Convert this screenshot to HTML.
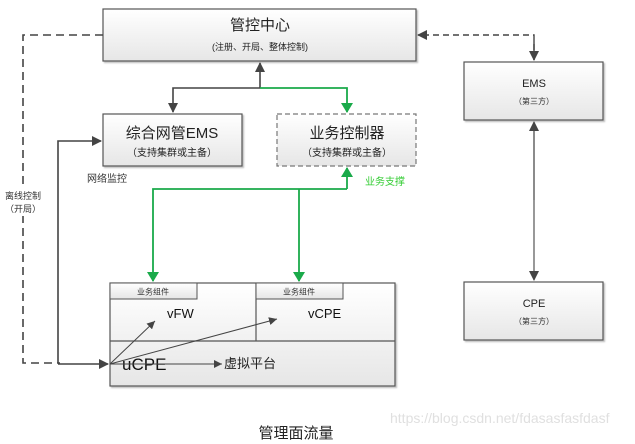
<!DOCTYPE html>
<html><head><meta charset="utf-8"><style>
html,body{margin:0;padding:0;background:#fff}
svg{display:block}
text{font-family:"Liberation Sans","Noto Sans CJK SC",sans-serif}
</style></head><body>
<svg width="635" height="444" viewBox="0 0 635 444" xmlns="http://www.w3.org/2000/svg">
<defs>
<linearGradient id="g" x1="0" y1="0" x2="0" y2="1"><stop offset="0" stop-color="#ffffff"/><stop offset="1" stop-color="#e6e6e6"/></linearGradient>
<filter id="sh" x="-5%" y="-5%" width="115%" height="120%"><feDropShadow dx="1.5" dy="1.5" stdDeviation="0.8" flood-color="#000" flood-opacity="0.25"/></filter>
<marker id="ad" markerWidth="10" markerHeight="10" refX="9" refY="5" orient="auto" markerUnits="userSpaceOnUse"><path d="M0,0 L10,5 L0,10 z" fill="#444"/></marker>
<marker id="ag" markerWidth="10" markerHeight="12" refX="9" refY="6" orient="auto" markerUnits="userSpaceOnUse"><path d="M0,0 L10,6 L0,12 z" fill="#1aaa4a"/></marker>
<marker id="as" markerWidth="8" markerHeight="8" refX="8" refY="4" orient="auto" markerUnits="userSpaceOnUse"><path d="M0,0 L8,4 L0,8 z" fill="#444"/></marker>
</defs>

<rect x="103" y="9" width="313" height="52" fill="url(#g)" stroke="#555" stroke-width="1.2" filter="url(#sh)"/>
<text x="260" y="30" font-size="15" text-anchor="middle" fill="#222">管控中心</text>
<text x="260" y="50" font-size="9" text-anchor="middle" fill="#222">(注册、开局、整体控制)</text>

<rect x="103" y="114" width="139" height="52" fill="url(#g)" stroke="#555" stroke-width="1.2" filter="url(#sh)"/>
<text x="172" y="138" font-size="15" text-anchor="middle" fill="#222">综合网管EMS</text>
<text x="172" y="156" font-size="10" text-anchor="middle" fill="#222">（支持集群或主备）</text>

<rect x="277" y="114" width="139" height="52" fill="url(#g)" stroke="#777" stroke-width="1.2" stroke-dasharray="5,3"/>
<text x="347" y="138" font-size="15" text-anchor="middle" fill="#222">业务控制器</text>
<text x="347" y="156" font-size="10" text-anchor="middle" fill="#222">（支持集群或主备）</text>

<rect x="464" y="62" width="139" height="58" fill="url(#g)" stroke="#555" stroke-width="1.2" filter="url(#sh)"/>
<text x="534" y="87" font-size="11" text-anchor="middle" fill="#222">EMS</text>
<text x="534" y="104" font-size="8" text-anchor="middle" fill="#333">（第三方）</text>

<rect x="464" y="282" width="139" height="58" fill="url(#g)" stroke="#555" stroke-width="1.2" filter="url(#sh)"/>
<text x="534" y="307" font-size="11" text-anchor="middle" fill="#222">CPE</text>
<text x="534" y="324" font-size="8" text-anchor="middle" fill="#333">（第三方）</text>

<rect x="110" y="283" width="285" height="103" fill="url(#g)" stroke="#555" stroke-width="1.2" filter="url(#sh)"/>
<line x1="110" y1="341" x2="395" y2="341" stroke="#555" stroke-width="1.2"/>
<line x1="256" y1="283" x2="256" y2="341" stroke="#555" stroke-width="1.2"/>
<rect x="110" y="283" width="87" height="16" fill="url(#g)" stroke="#555" stroke-width="1"/>
<rect x="256" y="283" width="87" height="16" fill="url(#g)" stroke="#555" stroke-width="1"/>
<text x="153" y="294.5" font-size="8" text-anchor="middle" fill="#333">业务组件</text>
<text x="299" y="294.5" font-size="8" text-anchor="middle" fill="#333">业务组件</text>
<text x="167" y="318" font-size="13" fill="#111">vFW</text>
<text x="308" y="318" font-size="13" fill="#111">vCPE</text>
<text x="122" y="370" font-size="17" fill="#111">uCPE</text>
<text x="224" y="368" font-size="13" fill="#222">虚拟平台</text>
<line x1="110" y1="364" x2="155" y2="321" stroke="#444" stroke-width="1" marker-end="url(#as)"/>
<line x1="110" y1="364" x2="277" y2="319" stroke="#444" stroke-width="1" marker-end="url(#as)"/>
<line x1="110" y1="364" x2="222" y2="364" stroke="#444" stroke-width="1" marker-end="url(#as)"/>

<path d="M103,35 H23 V363 H60" fill="none" stroke="#444" stroke-width="1.6" stroke-dasharray="8,5"/>
<rect x="3" y="188" width="40" height="28" fill="#fff"/>
<text x="23" y="199" font-size="9" text-anchor="middle" fill="#333">离线控制</text>
<text x="23" y="212" font-size="9" text-anchor="middle" fill="#333">（开局）</text>

<path d="M58,363 V141 H101" fill="none" stroke="#444" stroke-width="1.6" marker-end="url(#ad)"/>
<line x1="58" y1="364" x2="108" y2="364" stroke="#444" stroke-width="1.6" marker-end="url(#ad)"/>
<text x="87" y="182" font-size="10" fill="#333">网络监控</text>

<path d="M260,88 V63" fill="none" stroke="#444" stroke-width="1.6" marker-end="url(#ad)"/>
<path d="M260,88 H173 V112" fill="none" stroke="#444" stroke-width="1.6" marker-end="url(#ad)"/>
<path d="M260,88 H347 V112" fill="none" stroke="#1aaa4a" stroke-width="1.8" marker-end="url(#ag)"/>

<path d="M347,189 V168" fill="none" stroke="#1aaa4a" stroke-width="1.8" marker-end="url(#ag)"/>
<path d="M347,189 H153 V281" fill="none" stroke="#1aaa4a" stroke-width="1.8" marker-end="url(#ag)"/>
<path d="M299,189 V281" fill="none" stroke="#1aaa4a" stroke-width="1.8" marker-end="url(#ag)"/>
<text x="365" y="185" font-size="10" fill="#33cc33">业务支撑</text>

<path d="M534,60 V35 H418" fill="none" stroke="#444" stroke-width="1.4" stroke-dasharray="6,4" marker-end="url(#ad)"/>
<path d="M534,40 V60" fill="none" stroke="#444" stroke-width="1.4" marker-end="url(#ad)"/>
<line x1="534" y1="130" x2="534" y2="280" stroke="#555" stroke-width="1.2" marker-end="url(#ad)"/>
<line x1="534" y1="200" x2="534" y2="122" stroke="#555" stroke-width="1.2" marker-end="url(#ad)"/>

<text x="296" y="438" font-size="15" text-anchor="middle" fill="#222">管理面流量</text>
<text x="390" y="423" font-size="14" fill="#e0e0e0">https://blog.csdn.net/fdasasfasfdasf</text>
</svg>
</body></html>
